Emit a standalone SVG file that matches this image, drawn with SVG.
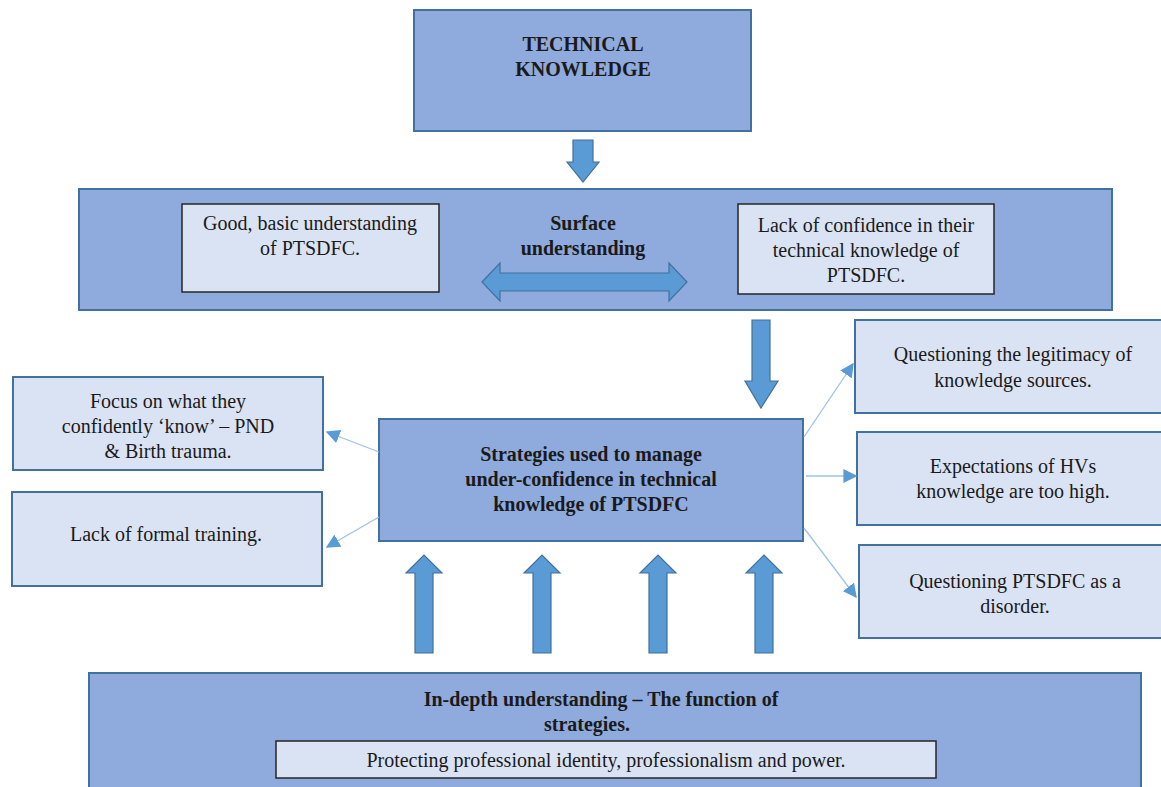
<svg xmlns="http://www.w3.org/2000/svg" width="1161" height="787" viewBox="0 0 1161 787">
<defs>
<style>
.dark{fill:#8faadc;stroke:#41719c;stroke-width:2}
.light{fill:#dae3f3;stroke:#41719c;stroke-width:2}
.inner{fill:#dae3f3;stroke:#262626;stroke-width:1.5}
.arr{fill:#5b9bd5;stroke:#41719c;stroke-width:1.2}
.conn{stroke:#9dc3e6;stroke-width:1.3;fill:none}
text{font-size:20px;fill:#1a1a1a;text-anchor:middle}
.b{font-weight:bold}
</style>
<marker id="ah" viewBox="0 0 10 10" refX="9" refY="5" markerWidth="14" markerHeight="14" markerUnits="userSpaceOnUse" orient="auto">
<path d="M0,0 L10,5 L0,10 z" fill="#5b9bd5"/>
</marker>
</defs>
<rect width="1161" height="787" fill="#ffffff"/>
<g font-family="'Liberation Serif', 'Times New Roman', 'DejaVu Serif', serif">
<g id="technical-knowledge">
<rect class="dark" x="414" y="10" width="337" height="121"/>
<text class="b" x="583" y="51">TECHNICAL</text>
<text class="b" x="583" y="76">KNOWLEDGE</text>
</g>

<g id="surface-understanding">
<rect class="dark" x="79" y="189" width="1033" height="121"/>
<text class="b" x="583" y="230">Surface</text>
<text class="b" x="583" y="255">understanding</text>
</g>

<g id="good-basic">
<rect class="inner" x="182" y="204" width="257" height="88"/>
<text x="310" y="230">Good, basic understanding</text>
<text x="310" y="255">of PTSDFC.</text>
</g>

<g id="lack-confidence">
<rect class="inner" x="738" y="204" width="256" height="90"/>
<text x="866" y="232">Lack of confidence in their</text>
<text x="866" y="257">technical knowledge of</text>
<text x="866" y="282">PTSDFC.</text>
</g>

<g id="strategies">
<rect class="dark" x="379" y="419" width="424" height="122"/>
<text class="b" x="591" y="461">Strategies used to manage</text>
<text class="b" x="591" y="486">under-confidence in technical</text>
<text class="b" x="591" y="511">knowledge of PTSDFC</text>
</g>

<g id="focus-know">
<rect class="light" x="13" y="377" width="310" height="93"/>
<text x="168" y="408">Focus on what they</text>
<text x="168" y="433">confidently ‘know’ – PND</text>
<text x="168" y="458">&amp; Birth trauma.</text>
</g>

<g id="formal-training">
<rect class="light" x="12" y="492" width="310" height="94"/>
<text x="166" y="541">Lack of formal training.</text>
</g>

<g id="legitimacy">
<rect class="light" x="855" y="320" width="310" height="93"/>
<text x="1013" y="361">Questioning the legitimacy of</text>
<text x="1013" y="387">knowledge sources.</text>
</g>

<g id="expectations">
<rect class="light" x="857" y="432" width="308" height="93"/>
<text x="1013" y="473">Expectations of HVs</text>
<text x="1013" y="498">knowledge are too high.</text>
</g>

<g id="disorder">
<rect class="light" x="859" y="545" width="306" height="93"/>
<text x="1015" y="588">Questioning PTSDFC as a</text>
<text x="1015" y="613">disorder.</text>
</g>

<g id="in-depth">
<rect class="dark" x="89" y="673" width="1052" height="120"/>
<text class="b" x="601" y="706">In-depth understanding – The function of</text>
<text class="b" x="587" y="731">strategies.</text>
</g>

<g id="protecting">
<rect class="inner" x="276" y="741" width="660" height="37"/>
<text x="606" y="767">Protecting professional identity, professionalism and power.</text>
</g>
</g>
<g id="connectors">
<path class="arr" d="M573,140 H593 V162 H599 L583,182 L567,162 H573 Z"/>
<path class="arr" d="M752,320 H770 V381 H778 L761,408 L745,381 H752 Z"/>
<path class="arr" d="M482,282 L500,263 V273 H669 V263 L687,282 L669,301 V291 H500 V301 Z"/>
<path class="arr" d="M415,653 V573 H406 L424,555 L442,573 H433 V653 Z"/>
<path class="arr" d="M533,653 V573 H524 L542,555 L560,573 H551 V653 Z"/>
<path class="arr" d="M649,653 V573 H640 L658,555 L676,573 H667 V653 Z"/>
<path class="arr" d="M755,653 V573 H746 L764,555 L782,573 H773 V653 Z"/>
<line class="conn" x1="379" y1="452" x2="327" y2="432" marker-end="url(#ah)"/>
<line class="conn" x1="379" y1="517" x2="327" y2="547" marker-end="url(#ah)"/>
<line class="conn" x1="804" y1="437" x2="853" y2="364" marker-end="url(#ah)"/>
<line class="conn" x1="806" y1="476" x2="856" y2="476" marker-end="url(#ah)"/>
<line class="conn" x1="804" y1="528" x2="856" y2="597" marker-end="url(#ah)"/>
</g>
</svg>
